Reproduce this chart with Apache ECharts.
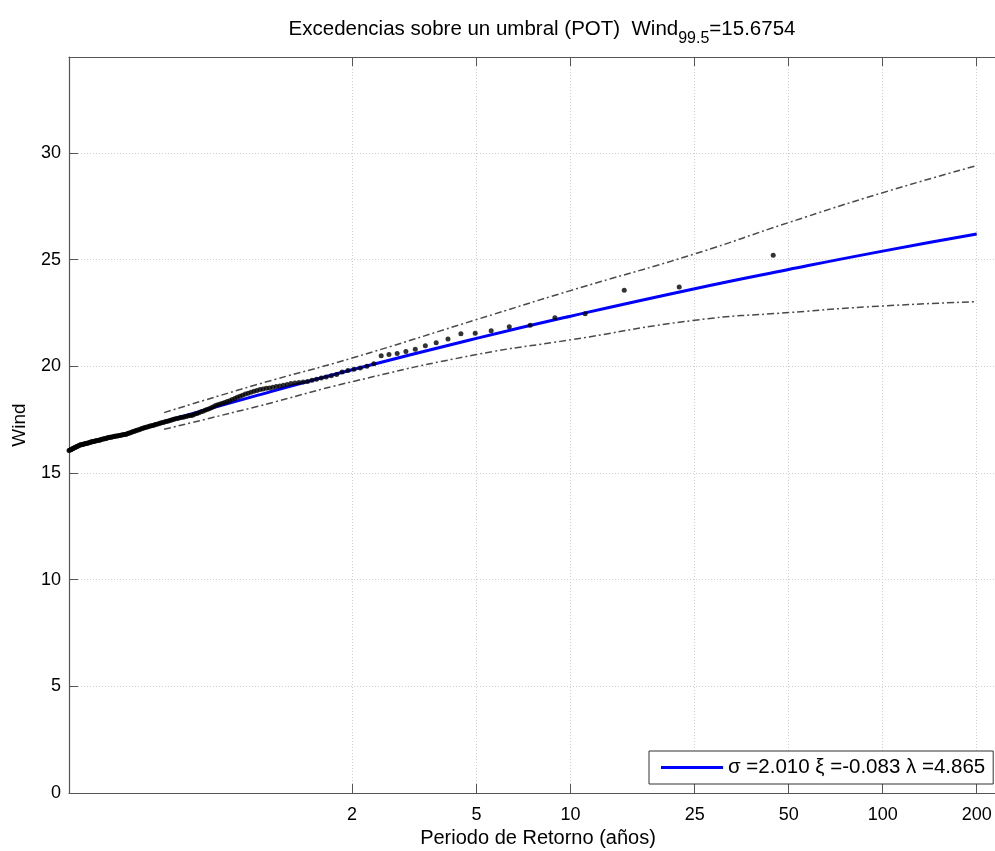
<!DOCTYPE html>
<html><head><meta charset="utf-8">
<script src="https://cdn.jsdelivr.net/npm/echarts@6/dist/echarts.min.js"></script>
<style>html,body{margin:0;padding:0;background:#fff;overflow:hidden}#c{width:995px;height:851px}</style>
</head><body><div id="c"></div><script>
// Tick values
const xTickValues = [2, 5, 10, 25, 50, 100, 200];
const yTickValues = [0, 5, 10, 15, 20, 25, 30];

// Empirical exceedances: return period (years) and wind
const empT = [44.6,22.3,14.87,11.15,8.92,7.433,6.371,5.575,4.956,4.46,4.055,3.717,3.431,3.186,2.973,2.788,2.624,2.478,2.347,2.23,2.124,2.027,1.939,1.858,1.784,1.715,1.652,1.593,1.538,1.487,1.439,1.394,1.352,1.312,1.274,1.239,1.205,1.174,1.144,1.115,1.088,1.062,1.037,1.014,0.991,0.970,0.949,0.929,0.910,0.892,0.875,0.858,0.842,0.826,0.811,0.796,0.782,0.769,0.756,0.743,0.731,0.719,0.708,0.697,0.686,0.676,0.666,0.656,0.646,0.637,0.628,0.619,0.611,0.603,0.595,0.587,0.579,0.572,0.565,0.558,0.551,0.544,0.537,0.531,0.525,0.519,0.513,0.507,0.501,0.496,0.490,0.485,0.480,0.474,0.469,0.465,0.460,0.455,0.451,0.446,0.442,0.437,0.433,0.429,0.425,0.421,0.417,0.413,0.409,0.405,0.402,0.398,0.395,0.391,0.388,0.384,0.381,0.378,0.375,0.372,0.369,0.366,0.363,0.360,0.357,0.354,0.351,0.348,0.346,0.343,0.340,0.338,0.335,0.333,0.330,0.328,0.326,0.323,0.321,0.319,0.316,0.314,0.312,0.310,0.308,0.305,0.303,0.301,0.299,0.297,0.295,0.293,0.292,0.290,0.288,0.286,0.284,0.282,0.281,0.279,0.277,0.275,0.274,0.272,0.270,0.269,0.267,0.265,0.264,0.262,0.261,0.259,0.258,0.256,0.255,0.253,0.252,0.251,0.249,0.248];
const empWind = [25.21,23.72,23.57,22.46,22.28,21.93,21.86,21.67,21.55,21.53,21.28,21.11,20.97,20.80,20.69,20.60,20.55,20.50,20.12,20.00,19.92,19.86,19.80,19.74,19.62,19.56,19.50,19.45,19.40,19.35,19.29,19.26,19.24,19.22,19.19,19.15,19.11,19.08,19.05,19.02,18.99,18.97,18.94,18.91,18.87,18.83,18.78,18.74,18.70,18.65,18.60,18.55,18.49,18.44,18.39,18.35,18.31,18.27,18.24,18.20,18.16,18.11,18.06,18.01,17.98,17.94,17.90,17.87,17.83,17.79,17.76,17.72,17.70,17.69,17.67,17.65,17.63,17.61,17.60,17.58,17.56,17.54,17.52,17.50,17.47,17.45,17.43,17.41,17.39,17.37,17.35,17.33,17.31,17.29,17.27,17.25,17.23,17.21,17.20,17.18,17.16,17.14,17.12,17.11,17.09,17.06,17.04,17.02,17.00,16.98,16.96,16.94,16.92,16.90,16.88,16.86,16.84,16.82,16.81,16.80,16.79,16.78,16.77,16.76,16.75,16.74,16.73,16.72,16.71,16.70,16.69,16.68,16.67,16.66,16.65,16.64,16.62,16.61,16.60,16.59,16.58,16.57,16.55,16.54,16.53,16.52,16.51,16.50,16.49,16.48,16.47,16.46,16.45,16.44,16.43,16.41,16.40,16.39,16.38,16.37,16.36,16.35,16.34,16.33,16.32,16.31,16.29,16.27,16.25,16.23,16.22,16.20,16.18,16.16,16.14,16.12,16.10,16.09,16.07,16.05];

// Fitted GPD return level curve and confidence bands
const fitT = [0.5, 1, 2, 5, 10, 25, 50, 100, 200];
const fitWind = [17.40, 18.65, 19.84, 21.31, 22.35, 23.64, 24.54, 25.40, 26.20];
const bandT = [0.5, 1, 2, 5, 10, 25, 50, 100, 200];
const upperWind = [17.83, 19.16, 20.39, 22.19, 23.55, 25.27, 26.74, 28.14, 29.41];
const lowerWind = [17.05, 18.13, 19.28, 20.55, 21.24, 22.16, 22.52, 22.83, 23.03];

const legendName = 'σ =2.010 ξ =-0.083 λ =4.865';

const pair = (xs, ys) => xs.map((x, i) => [x, ys[i]]);
const FONT = 'Liberation Sans, Arial, sans-serif';

const gridLine = { show: true, lineStyle: { color: '#d0d0d0', type: [1, 2], width: 1 } };

const chart = echarts.init(document.getElementById('c'), null, { renderer: 'canvas' });
chart.setOption({
  animation: false,
  backgroundColor: '#fff',
  title: {
    text: '{a|Excedencias sobre un umbral (POT)  Wind}{sub|99.5}{a|=15.6754}',
    left: 537, top: 14, textAlign: 'center',
    textStyle: {
      fontWeight: 'normal',
      rich: {
        a: { fontFamily: FONT, fontSize: 20.5, fontWeight: 'normal', color: '#000', lineHeight: 28, verticalAlign: 'top' },
        sub: { fontFamily: FONT, fontSize: 16, fontWeight: 'normal', color: '#000', lineHeight: 28, verticalAlign: 'bottom', padding: [11,0,0,0] }
      }
    }
  },
  legend: {
    data: [{ name: legendName, icon: 'rect' }],
    left: 649, top: 751,
    padding: [6, 8, 6, 12],
    itemWidth: 62, itemHeight: 3,
    backgroundColor: '#fff',
    borderColor: '#333', borderWidth: 1, borderRadius: 0,
    textStyle: { fontFamily: FONT, fontSize: 20.5, color: '#000', padding: [2, 0, 0, 0] },
    selectedMode: false
  },
  grid: { left: 69, top: 57, bottom: 58, width: 938, containLabel: false, outerBoundsMode: 'none' },
  xAxis: [{
    type: 'log', logBase: 10, min: 0.248, max: 250,
    name: 'Periodo de Retorno (años)', nameLocation: 'middle', nameGap: 34,
    nameTextStyle: { fontFamily: FONT, fontSize: 20, color: '#000' },
    axisLine: { show: true, onZero: false, lineStyle: { color: '#555', width: 1.2 } },
    axisTick: { show: true, inside: true, length: 9, customValues: xTickValues, lineStyle: { color: '#555' } },
    axisLabel: { show: true, customValues: xTickValues, margin: 13, fontFamily: FONT, fontSize: 18, color: '#000', formatter: v => String(v) },
    splitLine: gridLine,
    minorTick: { show: false }, minorSplitLine: { show: false }
  }, {
    type: 'log', logBase: 10, min: 0.248, max: 250, position: 'top',
    axisLine: { show: true, onZero: false, lineStyle: { color: '#555', width: 1.2 } },
    axisTick: { show: true, inside: true, length: 9, customValues: xTickValues, lineStyle: { color: '#555' } },
    axisLabel: { show: false },
    splitLine: { show: false }
  }],
  yAxis: {
    type: 'value', min: 0, max: 34.5, interval: 5,
    name: 'Wind', nameLocation: 'middle', nameGap: 40,
    nameTextStyle: { fontFamily: FONT, fontSize: 19, color: '#000' },
    axisLine: { show: true, onZero: false, lineStyle: { color: '#555', width: 1.2 } },
    axisTick: { show: true, inside: true, length: 9, customValues: yTickValues, lineStyle: { color: '#555' } },
    axisLabel: { customValues: yTickValues, margin: 8, fontFamily: FONT, fontSize: 18, color: '#000' },
    splitLine: gridLine
  },
  series: [
    {
      name: 'upper', type: 'line', data: pair(bandT, upperWind), smooth: true,
      showSymbol: false, symbol: 'none', z: 3,
      lineStyle: { color: '#4a4a4a', width: 1.5, type: [7, 3, 2, 3] }
    },
    {
      name: 'lower', type: 'line', data: pair(bandT, lowerWind), smooth: true,
      showSymbol: false, symbol: 'none', z: 3,
      lineStyle: { color: '#4a4a4a', width: 1.5, type: [7, 3, 2, 3] }
    },
    {
      name: legendName, type: 'line', data: pair(fitT, fitWind), smooth: true,
      showSymbol: false, symbol: 'none', z: 4,
      color: '#0000ff',
      lineStyle: { color: '#0000ff', width: 3 }
    },
    {
      name: 'data', type: 'scatter', data: pair(empT, empWind),
      symbol: 'circle', symbolSize: 5, z: 5,
      itemStyle: { color: '#000' }
    }
  ]
});
</script></body></html>
